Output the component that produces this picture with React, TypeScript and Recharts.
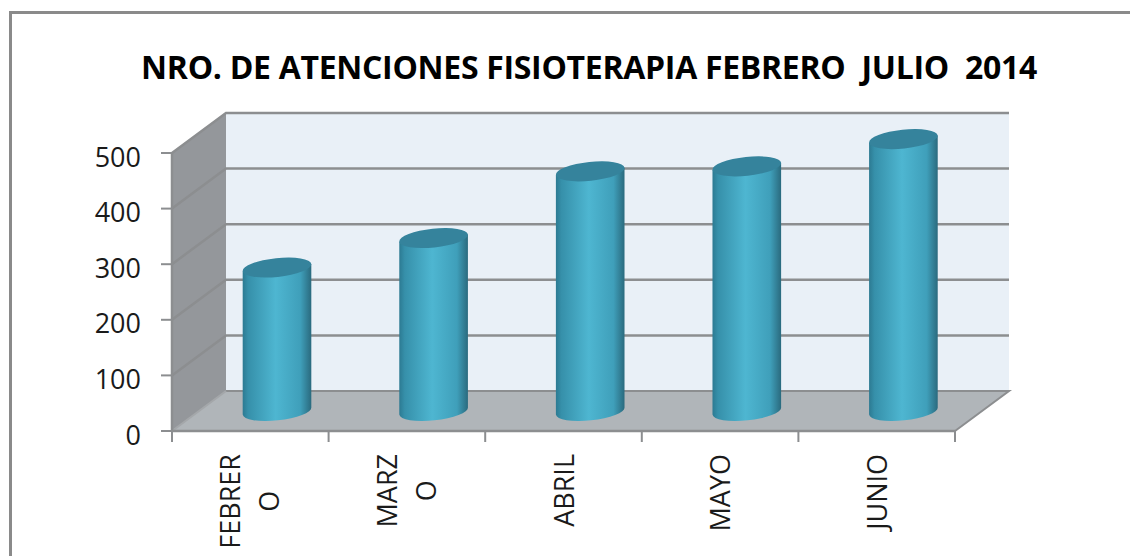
import { BarChart, Bar, XAxis, YAxis, CartesianGrid, usePlotArea } from "recharts";

const months = ["FEBRERO", "MARZO", "ABRIL", "MAYO", "JUNIO"];
const monthLines = [["FEBRER", "O"], ["MARZ", "O"], ["ABRIL"], ["MAYO"], ["JUNIO"]];
const atenciones = [258, 311, 431, 440, 489];
const yTicks = [0, 100, 200, 300, 400, 500];
const chartTitle = "NRO. DE ATENCIONES FISIOTERAPIA FEBRERO  JULIO  2014";

const data = months.map((month, i) => ({ month, atenciones: atenciones[i], lines: monthLines[i] }));

const DEPTH_X = 54;
const DEPTH_Y = -40;
const TILT = 6;
const labelFont = "'Open Sans', sans-serif";
const axisColor = "#8c8e90";

const measure = (text: string) => {
  const ctx = document.createElement("canvas").getContext("2d");
  if (!ctx) return 0;
  ctx.font = `27px ${labelFont}`;
  return ctx.measureText(text).width;
};

// the 3D box: side wall, back wall, floor
function Walls() {
  const plot = usePlotArea();
  if (!plot) return null;
  const { x, y, width: w, height: h } = plot;
  const dx = DEPTH_X;
  const dy = DEPTH_Y;
  return (
    <g>
      <rect x={x + dx} y={y + dy} width={w} height={h} fill="#e9f0f7" />
      <polygon
        points={`${x},${y} ${x + dx},${y + dy} ${x + dx},${y + h + dy} ${x},${y + h}`}
        fill="#94979b"
      />
      <polygon
        points={`${x},${y + h} ${x + dx},${y + h + dy} ${x + w + dx},${y + h + dy} ${x + w},${y + h}`}
        fill="#b0b5b9"
      />
      <polyline
        points={`${x + dx},${y + h + dy} ${x + w + dx},${y + h + dy} ${x + w},${y + h}`}
        fill="none"
        stroke={axisColor}
        strokeWidth={2}
      />
      <line x1={x} y1={y + h} x2={x + dx} y2={y + h + dy} stroke="#a4a7aa" strokeWidth={2} />
      {/* category ticks sit on the band edges */}
      {[...months, ""].map((m, i) => (
        <line
          key={`edge-${i}`}
          x1={x + (w * i) / months.length}
          y1={y + h}
          x2={x + (w * i) / months.length}
          y2={y + h + 11}
          stroke={axisColor}
          strokeWidth={2}
        />
      ))}
    </g>
  );
}

// wraps each grid line around the side wall and the back wall
function gridLine(props: any) {
  const { x1, y1, x2, y2, index } = props;
  if (y1 > 400) return <g key={`grid-${index}`} />;
  return (
    <polyline
      key={`grid-${index}`}
      points={`${x1},${y1} ${x1 + DEPTH_X},${y1 + DEPTH_Y} ${x2 + DEPTH_X},${y2 + DEPTH_Y}`}
      fill="none"
      stroke={axisColor}
      strokeWidth={2.5}
    />
  );
}

function Cylinder(props: any) {
  const { x, y, width, height } = props;
  const rx = width / 2;
  const ry = 9.4;
  const cx = x + rx + DEPTH_X / 2 - 0.5;
  const top = y + DEPTH_Y / 2;
  const bottom = y + height + DEPTH_Y / 2;
  const ox = rx * Math.cos((TILT * Math.PI) / 180);
  const oy = rx * Math.sin((TILT * Math.PI) / 180);
  const body = `M${cx - ox},${top + oy} L${cx - ox},${bottom + oy} A${rx},${ry} ${-TILT} 0 0 ${cx + ox},${bottom - oy} L${cx + ox},${top - oy} Z`;
  return (
    <g>
      <path d={body} fill="url(#cylinderBody)" />
      <ellipse cx={cx} cy={top} rx={rx} ry={ry} fill="#35839c" transform={`rotate(${-TILT} ${cx} ${top})`} />
    </g>
  );
}

function MonthTick(props: any) {
  const { x, y, index } = props;
  const lines: string[] = monthLines[index];
  const longest = measure(lines[0]);
  return (
    <g transform={`translate(${x},${y + 10}) rotate(-90)`}>
      {lines.map((line, i) => (
        <text
          key={line}
          x={-longest / 2}
          y={(lines.length === 1 ? 10 : i === 0 ? -10 : 29)}
          textAnchor="middle"
          fontFamily={labelFont}
          fontSize={27}
          fill="#1a1a1a"
        >
          {line}
        </text>
      ))}
    </g>
  );
}

export default function App() {
  return (
    <div style={{ position: "absolute", left: 0, top: 0, width: 1130, height: 556, overflow: "hidden", background: "#fff" }}>
      <div
        style={{
          position: "absolute",
          left: 9,
          top: 11,
          width: 1300,
          height: 700,
          border: "3px solid #8a8a8a",
        }}
      />
      <div
        style={{
          position: "absolute",
          left: 89,
          top: 45,
          width: 1000,
          textAlign: "center",
          whiteSpace: "pre",
          fontFamily: "'Open Sans', sans-serif",
          fontWeight: 700,
          fontSize: 32,
          letterSpacing: -0.3,
          color: "#000",
        }}
      >
        {chartTitle}
      </div>
      <div style={{ position: "absolute", left: 0, top: 0 }}>
        <BarChart
          width={1130}
          height={556}
          data={data}
          margin={{ top: 153, right: 175, bottom: 0, left: 0 }}
          barSize={69}
        >
          <defs>
            <linearGradient id="cylinderBody" x1="0" y1="0" x2="1" y2="0">
              <stop offset="0%" stopColor="#2c7a92" />
              <stop offset="8%" stopColor="#3690aa" />
              <stop offset="48%" stopColor="#4eb6d1" />
              <stop offset="84%" stopColor="#3f9fba" />
              <stop offset="100%" stopColor="#2a6a7e" />
            </linearGradient>
          </defs>
          <Walls />
          <CartesianGrid vertical={false} horizontal={gridLine} zIndex={50} />
          <XAxis
            dataKey="month"
            interval={0}
            height={125}
            tickSize={11}
            tick={<MonthTick />}
            axisLine={{ stroke: axisColor, strokeWidth: 2.5 }}
            tickLine={false}
          />
          <YAxis
            width={172}
            domain={[0, 500]}
            ticks={yTicks}
            tickSize={11}
            tickMargin={20}
            tick={{ fontFamily: labelFont, fontSize: 27, fill: "#1a1a1a", dy: 4 }}
            axisLine={{ stroke: axisColor, strokeWidth: 2.5 }}
            tickLine={{ stroke: axisColor, strokeWidth: 2 }}
          />
          <Bar dataKey="atenciones" shape={<Cylinder />} isAnimationActive={false} />
        </BarChart>
      </div>
    </div>
  );
}
